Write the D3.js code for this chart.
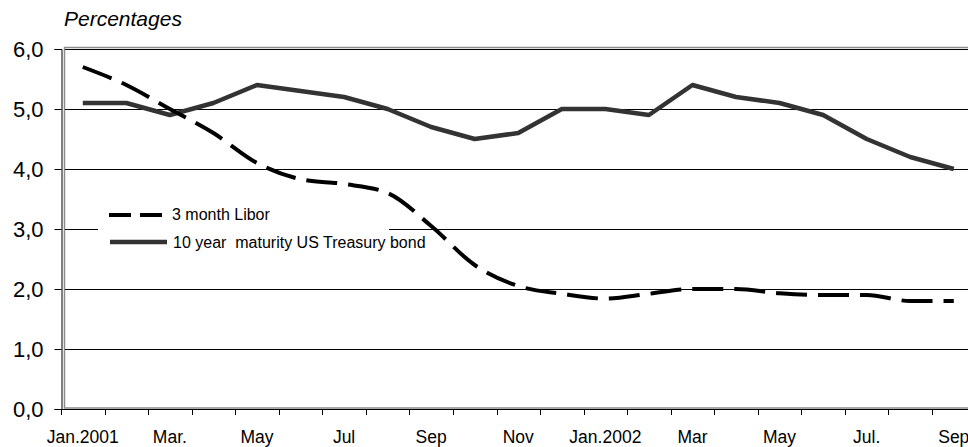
<!DOCTYPE html>
<html><head><meta charset="utf-8">
<script src="https://cdn.jsdelivr.net/npm/d3@7"></script>
<style>body{margin:0;background:#fff}svg{display:block;font-family:"Liberation Sans",Arial,sans-serif}</style>
</head><body>
<svg id="c" width="968" height="447"></svg>
<script>
const months = ["2001-01","2001-02","2001-03","2001-04","2001-05","2001-06","2001-07","2001-08","2001-09","2001-10","2001-11","2001-12","2002-01","2002-02","2002-03","2002-04","2002-05","2002-06","2002-07","2002-08","2002-09"];
const monthLabels = ["Jan.2001","","Mar.","","May","","Jul","","Sep","","Nov","","Jan.2002","","Mar","","May","","Jul.","","Sep"];
const libor = [5.7,5.4,5.0,4.6,4.1,3.83,3.75,3.6,3.05,2.4,2.05,1.92,1.84,1.92,2.0,2.0,1.93,1.9,1.9,1.8,1.8];
const treasury = [5.1,5.1,4.9,5.1,5.4,5.3,5.2,5.0,4.7,4.5,4.6,5.0,5.0,4.9,5.4,5.2,5.1,4.9,4.5,4.2,4.0];
const yTicks = [0,1,2,3,4,5,6];
const seriesNames = ["3 month Libor","10 year\u00a0 maturity US Treasury bond"];

const svg = d3.select("#c");
const pLeft = 61, pTop = 49, pBottom = 409, step = 43.55;
const x = d3.scaleBand().domain(months).range([pLeft, pLeft + step*months.length]).padding(0);
const y = d3.scaleLinear().domain([0,6]).range([pBottom, pTop]);
const fmt = v => d3.format(".1f")(v).replace(".", ",");

// plot area border (gray)
svg.append("rect").attr("x", 64.5).attr("y", 47.5).attr("width", 1000).attr("height", pBottom-48.5)
  .attr("fill","none").attr("stroke","#8c8c8c").attr("stroke-width",1.5);

// gridlines
svg.append("g").selectAll("line").data(yTicks.filter(d=>d>0)).join("line")
  .attr("x1", 65).attr("x2", 968).attr("y1", d=>Math.round(y(d))+0.5).attr("y2", d=>Math.round(y(d))+0.5)
  .attr("stroke","#000").attr("stroke-width",1);

// y axis
const ya = svg.append("g").attr("transform",`translate(${pLeft+0.5},0)`)
  .call(d3.axisLeft(y).tickValues(yTicks).tickFormat(fmt).tickSize(7).tickPadding(11));
ya.select(".domain").attr("stroke","#000");
ya.selectAll("text").attr("font-size",22).attr("fill","#000").attr("font-family","Liberation Sans, Arial, sans-serif");

// x axis line
svg.append("line").attr("x1", pLeft).attr("x2", 968).attr("y1", pBottom+0.5).attr("y2", pBottom+0.5).attr("stroke","#000");
// x ticks at category boundaries
const bounds = months.map(m => x(m)).concat([x(months[months.length-1]) + x.bandwidth()]);
svg.append("g").selectAll("line").data(bounds).join("line")
  .attr("x1", d=>Math.round(d)+0.5).attr("x2", d=>Math.round(d)+0.5).attr("y1", pBottom).attr("y2", pBottom+6)
  .attr("stroke","#000");
// x labels
svg.append("g").selectAll("text").data(months).join("text")
  .attr("x", d => x(d) + x.bandwidth()/2).attr("y", 443)
  .attr("text-anchor","middle").attr("font-size",17.5).attr("fill","#000")
  .text((d,i)=>monthLabels[i]);

// legend background
svg.append("rect").attr("x",98).attr("y",200).attr("width",291).attr("height",58).attr("fill","#fff");

const cx = d => x(d) + x.bandwidth()/2;
// treasury line
svg.append("path").datum(treasury)
  .attr("d", d3.line().x((d,i)=>cx(months[i])).y(d=>y(d)))
  .attr("fill","none").attr("stroke","#333").attr("stroke-width",4.5).attr("stroke-linejoin","round");
// libor line
svg.append("path").datum(libor)
  .attr("d", d3.line().curve(d3.curveMonotoneX).x((d,i)=>cx(months[i])).y(d=>y(d)))
  .attr("fill","none").attr("stroke","#000").attr("stroke-width",4).attr("stroke-dasharray","31,11");

// legend
const lg = svg.append("g");
lg.append("line").attr("x1",109).attr("x2",162).attr("y1",215).attr("y2",215)
  .attr("stroke","#000").attr("stroke-width",4).attr("stroke-dasharray","22,9");
lg.append("text").attr("x",172).attr("y",220).attr("font-size",16).text(seriesNames[0]);
lg.append("line").attr("x1",110).attr("x2",167).attr("y1",242).attr("y2",242)
  .attr("stroke","#333").attr("stroke-width",4.5);
lg.append("text").attr("x",173).attr("y",248).attr("font-size",16).text(seriesNames[1]);

// title
svg.append("text").attr("x",64).attr("y",26).attr("font-size",21).attr("font-style","italic").text("Percentages");
</script>
</body></html>
